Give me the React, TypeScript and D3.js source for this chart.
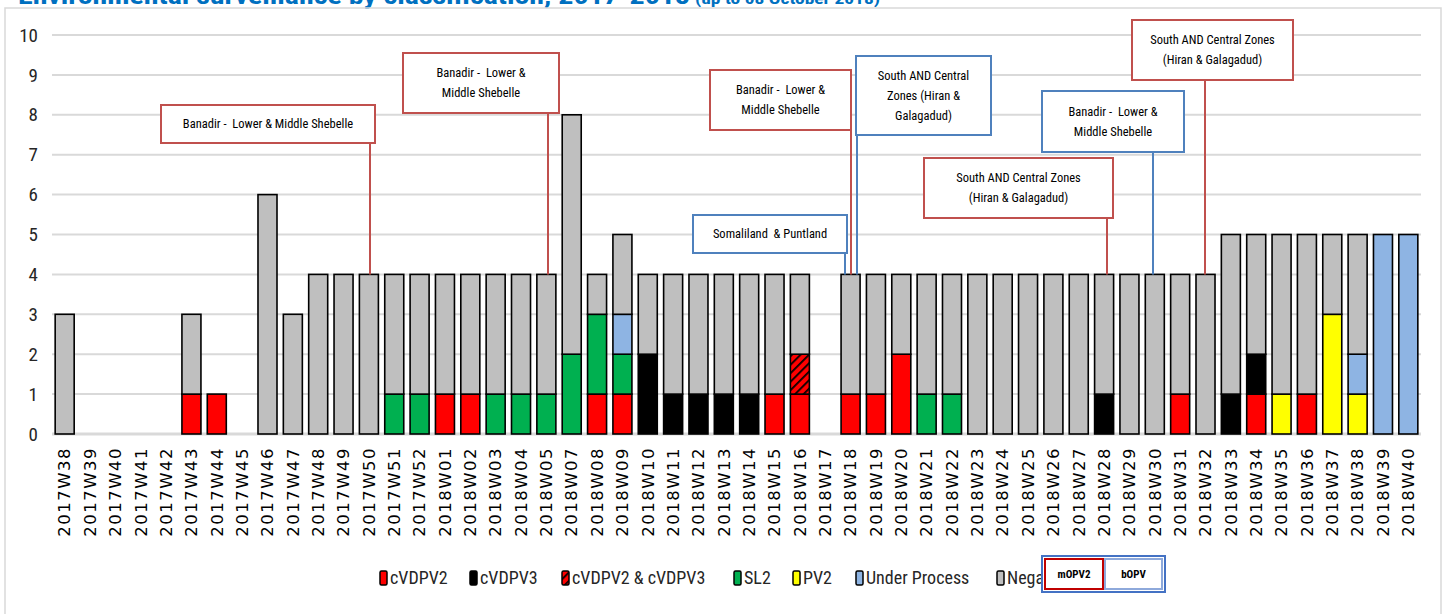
import React from 'react';
import * as d3 from 'd3';

const categories = [
  '2017W38', '2017W39', '2017W40', '2017W41', '2017W42', '2017W43', '2017W44', '2017W45', '2017W46', '2017W47',
  '2017W48', '2017W49', '2017W50', '2017W51', '2017W52', '2018W01', '2018W02', '2018W03', '2018W04', '2018W05',
  '2018W07', '2018W08', '2018W09', '2018W10', '2018W11', '2018W12', '2018W13', '2018W14', '2018W15', '2018W16',
  '2018W17', '2018W18', '2018W19', '2018W20', '2018W21', '2018W22', '2018W23', '2018W24', '2018W25', '2018W26',
  '2018W27', '2018W28', '2018W29', '2018W30', '2018W31', '2018W32', '2018W33', '2018W34', '2018W35', '2018W36',
  '2018W37', '2018W38', '2018W39', '2018W40',
];

const cvdpv2 = [
  0, 0, 0, 0, 0, 1, 1, 0, 0, 0,
  0, 0, 0, 0, 0, 1, 1, 0, 0, 0,
  0, 1, 1, 0, 0, 0, 0, 0, 1, 1,
  0, 1, 1, 2, 0, 0, 0, 0, 0, 0,
  0, 0, 0, 0, 1, 0, 0, 1, 0, 1,
  0, 0, 0, 0,
];
const cvdpv3 = [
  0, 0, 0, 0, 0, 0, 0, 0, 0, 0,
  0, 0, 0, 0, 0, 0, 0, 0, 0, 0,
  0, 0, 0, 2, 1, 1, 1, 1, 0, 0,
  0, 0, 0, 0, 0, 0, 0, 0, 0, 0,
  0, 1, 0, 0, 0, 0, 1, 1, 0, 0,
  0, 0, 0, 0,
];
const cvdpv2and3 = [
  0, 0, 0, 0, 0, 0, 0, 0, 0, 0,
  0, 0, 0, 0, 0, 0, 0, 0, 0, 0,
  0, 0, 0, 0, 0, 0, 0, 0, 0, 1,
  0, 0, 0, 0, 0, 0, 0, 0, 0, 0,
  0, 0, 0, 0, 0, 0, 0, 0, 0, 0,
  0, 0, 0, 0,
];
const sl2 = [
  0, 0, 0, 0, 0, 0, 0, 0, 0, 0,
  0, 0, 0, 1, 1, 0, 0, 1, 1, 1,
  2, 2, 1, 0, 0, 0, 0, 0, 0, 0,
  0, 0, 0, 0, 1, 1, 0, 0, 0, 0,
  0, 0, 0, 0, 0, 0, 0, 0, 0, 0,
  0, 0, 0, 0,
];
const pv2 = [
  0, 0, 0, 0, 0, 0, 0, 0, 0, 0,
  0, 0, 0, 0, 0, 0, 0, 0, 0, 0,
  0, 0, 0, 0, 0, 0, 0, 0, 0, 0,
  0, 0, 0, 0, 0, 0, 0, 0, 0, 0,
  0, 0, 0, 0, 0, 0, 0, 0, 1, 0,
  3, 1, 0, 0,
];
const underProcess = [
  0, 0, 0, 0, 0, 0, 0, 0, 0, 0,
  0, 0, 0, 0, 0, 0, 0, 0, 0, 0,
  0, 0, 1, 0, 0, 0, 0, 0, 0, 0,
  0, 0, 0, 0, 0, 0, 0, 0, 0, 0,
  0, 0, 0, 0, 0, 0, 0, 0, 0, 0,
  0, 1, 5, 5,
];
const negative = [
  3, 0, 0, 0, 0, 2, 0, 0, 6, 3,
  4, 4, 4, 3, 3, 3, 3, 3, 3, 3,
  6, 1, 2, 2, 3, 3, 3, 3, 3, 2,
  0, 3, 3, 2, 3, 3, 4, 4, 4, 4,
  4, 3, 4, 4, 3, 4, 4, 3, 4, 4,
  2, 3, 0, 0,
];

const seriesKeys = ['cVDPV2', 'cVDPV3', 'cVDPV2 & cVDPV3', 'SL2', 'PV2', 'Under Process', 'Negative'];
const seriesValues = [cvdpv2, cvdpv3, cvdpv2and3, sl2, pv2, underProcess, negative];
const seriesFills = ['#FF0000', '#000000', 'url(#hatch)', '#00B050', '#FFFF00', '#8EB4E3', '#BFBFBF'];

const yTicks = [0, 1, 2, 3, 4, 5, 6, 7, 8, 9, 10];

// annotation boxes: text lines, box in pixels, where the leader line drops
const annotations = [
  { lines: ['Banadir -  Lower & Middle Shebelle'], box: [161, 105, 214, 38], color: '#C0504D', lx: 370 },
  { lines: ['Banadir -  Lower &', 'Middle Shebelle'], box: [403, 53, 156, 60], color: '#C0504D', lx: 548 },
  { lines: ['Banadir -  Lower &', 'Middle Shebelle'], box: [710, 70, 141, 60], color: '#C0504D', lx: 851 },
  { lines: ['South AND Central', 'Zones (Hiran &', 'Galagadud)'], box: [856, 56, 135, 79], color: '#4F81BD', lx: 857 },
  { lines: ['Somaliland  & Puntland'], box: [693, 215, 154, 38], color: '#4F81BD', lx: 845 },
  { lines: ['South AND Central Zones', '(Hiran & Galagadud)'], box: [924, 158, 189, 60], color: '#C0504D', lx: 1107 },
  { lines: ['Banadir -  Lower &', 'Middle Shebelle'], box: [1042, 91, 142, 61], color: '#4F81BD', lx: 1153 },
  { lines: ['South AND Central Zones', '(Hiran & Galagadud)'], box: [1132, 20, 161, 60], color: '#C0504D', lx: 1205 },
];

const legendX = [380, 470, 562, 734, 793, 856, 997];

const W = 1447;
const H = 614;
const narrow = "'Liberation Sans Narrow', 'Roboto Condensed', Roboto, sans-serif";

export default function App() {
  const x = d3.scaleBand().domain(categories).range([52, 1421]).paddingInner(0.25).paddingOuter(0.125);
  const y = d3.scaleLinear().domain([0, 10]).range([434, 35]);

  const rows = categories.map((c, i) => {
    const r: any = { cat: c };
    seriesKeys.forEach((k, j) => (r[k] = seriesValues[j][i]));
    return r;
  });
  const stacked = d3.stack().keys(seriesKeys)(rows);

  return (
    <svg width={W} height={H} style={{ position: 'absolute', left: 0, top: 0, background: '#fff' }}>
      <defs>
        <pattern id="hatch" width="6" height="6" patternUnits="userSpaceOnUse" patternTransform="rotate(45)">
          <rect width="6" height="6" fill="#FF0000" />
          <line x1="0" y1="0" x2="0" y2="6" stroke="#000" strokeWidth="3.5" />
        </pattern>
        <clipPath id="legendClip">
          <rect x={0} y={540} width={1042} height={80} />
        </clipPath>
      </defs>

      {/* title, mostly cut off at the top */}
      <text x={18} y={4} fill="#0070C0" fontFamily={narrow} fontWeight="bold" fontSize={24}
        textLength={672} lengthAdjust="spacingAndGlyphs">
        Environmental surveillance by classification, 2017-2018
      </text>
      <text x={695} y={4} fill="#0070C0" fontFamily={narrow} fontWeight="bold" fontSize={14}
        textLength={185} lengthAdjust="spacingAndGlyphs">
        (up to 08 October 2018)
      </text>

      <rect x={5} y={8} width={1436} height={700} fill="none" stroke="#D9D9D9" strokeWidth={1.5} />

      {/* gridlines + y labels */}
      {yTicks.map(t => (
        <g key={t}>
          <line x1={52} x2={1421} y1={y(t)} y2={y(t)} stroke="#D9D9D9" strokeWidth={t === 0 ? 3 : 2} />
          <text x={38} y={y(t)} dy="0.35em" textAnchor="end" fontFamily={narrow} fontSize={19} fill="#262626">{t}</text>
        </g>
      ))}

      {/* bars */}
      {stacked.map((s, j) => (
        <g key={s.key} fill={seriesFills[j]}>
          {s.map((d, i) =>
            d[1] - d[0] > 0 ? (
              <rect key={i} x={x(categories[i])} y={y(d[1])} width={x.bandwidth()} height={y(d[0]) - y(d[1])}
                stroke="#000" strokeWidth={1.6} />
            ) : null
          )}
        </g>
      ))}

      {/* x labels */}
      {categories.map(c => {
        const cx = (x(c) as number) + x.bandwidth() / 2;
        return (
          <text key={c} transform={`translate(${cx},447) rotate(-90)`} dy="0.35em" textAnchor="end"
            fontFamily="'DejaVu Sans', sans-serif" fontSize={16.5} letterSpacing={1.5} fill="#000">{c}</text>
        );
      })}

      {/* annotations */}
      {annotations.map((a, i) => {
        const [bx, by, bw, bh] = a.box;
        const ly = y(4);
        const n = a.lines.length;
        const lh = 20;
        const cy = by + bh / 2 - ((n - 1) * lh) / 2;
        return (
          <g key={i}>
            <line x1={a.lx} x2={a.lx} y1={by + bh} y2={ly} stroke={a.color} strokeWidth={2} />
            <rect x={bx} y={by} width={bw} height={bh} fill="#fff" stroke={a.color} strokeWidth={2} />
            {a.lines.map((l, k) => (
              <text key={k} x={bx + bw / 2} y={cy + k * lh} dy="0.35em" textAnchor="middle"
                fontFamily={narrow} fontSize={12.5} fill="#000" style={{ whiteSpace: 'pre' }}>{l}</text>
            ))}
          </g>
        );
      })}

      {/* legend */}
      <g clipPath="url(#legendClip)">
        {seriesKeys.map((k, j) => (
          <g key={k} transform={`translate(${legendX[j]},578)`}>
            <rect x={0} y={-7} width={7} height={14} rx={1.5} fill={seriesFills[j]} stroke="#000" strokeWidth={1.5} />
            <text x={10} y={0} dy="0.35em" fontFamily={narrow} fontSize={18} fill="#262626">{k}</text>
          </g>
        ))}
      </g>

      {/* mOPV2 / bOPV key */}
      <g>
        <rect x={1042} y={556} width={123} height={36} fill="#fff" stroke="#4472C4" strokeWidth={2} />
        <rect x={1045} y={559} width={58} height={30} fill="#fff" stroke="#C00000" strokeWidth={2} />
        <rect x={1105} y={559} width={57} height={30} fill="#fff" stroke="#8EA9DB" strokeWidth={2} />
        <text x={1074} y={574} dy="0.35em" textAnchor="middle" fontFamily={narrow} fontWeight="bold" fontSize={11}>mOPV2</text>
        <text x={1133.5} y={574} dy="0.35em" textAnchor="middle" fontFamily={narrow} fontWeight="bold" fontSize={11}>bOPV</text>
      </g>
    </svg>
  );
}
